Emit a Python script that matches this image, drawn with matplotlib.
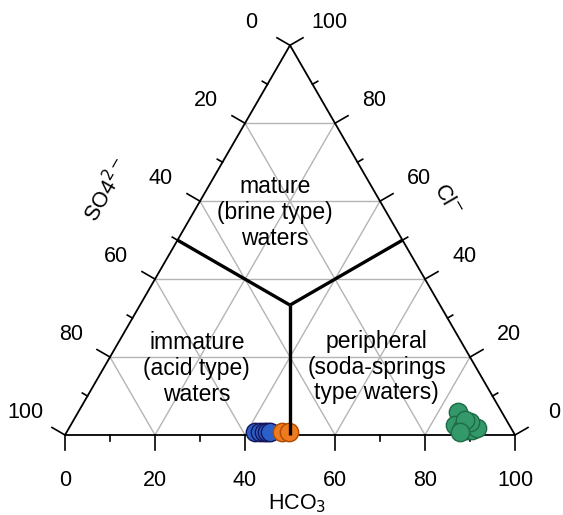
import numpy as np
import matplotlib
matplotlib.use("Agg")
import matplotlib.pyplot as plt

plt.rcParams['font.family'] = ['Liberation Sans', 'DejaVu Sans']

# ternary samples: HCO3 and Cl percentages (SO4 = 100 - HCO3 - Cl)
blue_hco3 = [41.8, 42.9, 43.8, 44.5, 45.2]
blue_cl = [0.8, 0.8, 0.8, 0.8, 0.8]
orange_hco3 = [47.8, 49.4]
orange_cl = [0.8, 0.8]
green_hco3 = [84.4, 85.4, 87.3, 88.7, 89.8, 90.7, 88.3, 87.0, 87.4]
green_cl = [5.9, 2.6, 1.8, 1.3, 1.3, 1.8, 3.3, 3.8, 0.8]

tick_vals = [0, 20, 40, 60, 80, 100]
minor_vals = [10, 30, 50, 70, 90]

H = np.sqrt(3) / 2


def cart(h, c):
    h = np.asarray(h, dtype=float)
    c = np.asarray(c, dtype=float)
    return h / 100 + c / 200, c / 100 * H


fig = plt.figure(figsize=(5.63, 5.15), dpi=100)
ax = fig.add_axes([0, 0, 1, 1])
ax.set_xlim(-65 / 450, 498 / 450)
ax.set_ylim(-80 / 450, 435 / 450)
ax.axis('off')

# grid
for v in [20, 40, 60, 80]:
    # constant Cl
    x, y = cart([0, 100 - v], [v, v])
    ax.plot(x, y, color='#b4b4b4', lw=1, zorder=1)
    # constant HCO3
    x, y = cart([v, v], [0, 100 - v])
    ax.plot(x, y, color='#b4b4b4', lw=1, zorder=1)
    # constant SO4
    x, y = cart([100 - v, 0], [0, 100 - v])
    ax.plot(x, y, color='#b4b4b4', lw=1, zorder=1)

# outline
x, y = cart([0, 100, 0, 0], [0, 0, 100, 0])
ax.plot(x, y, color='black', lw=1.3, zorder=2)

L_maj = 15 / 450
L_min = 6 / 450
dirs = {
    'bottom': (0, -1),
    'left': (-H, 0.5),
    'right': (H, 0.5),
}


def tick(px, py, d, L):
    ax.plot([px, px + d[0] * L], [py, py + d[1] * L], color='black', lw=1.2, zorder=2)


off = 0.087
for v in tick_vals + minor_vals:
    L = L_maj if v in tick_vals else L_min
    # bottom: HCO3
    px, py = cart(v, 0)
    tick(px, py, dirs['bottom'], L)
    # left: SO4 (h = 0, c = 100 - v)
    px, py = cart(0, 100 - v)
    tick(px, py, dirs['left'], L)
    # right: Cl (h = 100 - v, c = v)
    px, py = cart(100 - v, v)
    tick(px, py, dirs['right'], L)

fs = 15.5
for v in tick_vals:
    px, py = cart(v, 0)
    ax.text(px, py - 0.1, str(v), ha='center', va='center', fontsize=fs)
    px, py = cart(0, 100 - v)
    ax.text(px - off, py + 0.051, str(v), ha='center', va='center', fontsize=fs)
    px, py = cart(100 - v, v)
    ax.text(px + off, py + 0.051, str(v), ha='center', va='center', fontsize=fs)

# axis titles
ax.text(0.516, -0.153, 'HCO$_3$', ha='center', va='center', fontsize=fs)
ax.text(0.093, 0.544, 'SO4$^{2-}$', ha='center', va='center', fontsize=fs, rotation=60)
ax.text(0.849, 0.522, 'Cl$^{-}$', ha='center', va='center', fontsize=fs, rotation=-60)

# field boundaries
cx, cy = cart(100 / 3, 100 / 3)
for h, c in [(0, 50), (50, 50), (50, 0)]:
    ex, ey = cart(h, c)
    ax.plot([cx, ex], [cy, ey], color='black', lw=2.4, zorder=5, solid_capstyle='butt')

# field labels
lab_fs = 16.5
ax.text(0.467, 0.494, 'mature\n(brine type)\nwaters', ha='center', va='center',
        fontsize=lab_fs, linespacing=1.16)
ax.text(0.293, 0.147, 'immature\n(acid type)\nwaters', ha='center', va='center',
        fontsize=lab_fs, linespacing=1.16)
ax.text(0.693, 0.151, 'peripheral\n(soda-springs\ntype waters)', ha='center', va='center',
        fontsize=lab_fs, linespacing=1.12)

# samples
ms = 175
x, y = cart(blue_hco3, blue_cl)
ax.scatter(x, y, s=ms, c='#2c5fc8', edgecolors='#14145a', linewidths=1, zorder=4)
x, y = cart(orange_hco3, orange_cl)
ax.scatter(x, y, s=ms, c='#f07a1e', edgecolors='#b04a00', linewidths=1, zorder=4)
x, y = cart(green_hco3, green_cl)
ax.scatter(x, y, s=ms, c='#33996a', edgecolors='#1e6b45', linewidths=1, zorder=4)

fig.savefig('out.png', dpi=100)
